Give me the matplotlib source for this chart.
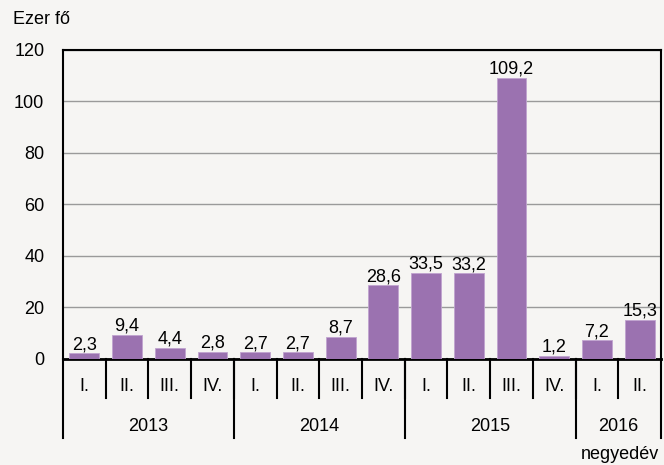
import matplotlib.pyplot as plt

# adatok
quarters = ["I.", "II.", "III.", "IV.", "I.", "II.", "III.", "IV.",
            "I.", "II.", "III.", "IV.", "I.", "II."]
years = ["2013", "2014", "2015", "2016"]
year_sizes = [4, 4, 4, 2]
values = [2.3, 9.4, 4.4, 2.8, 2.7, 2.7, 8.7, 28.6, 33.5, 33.2, 109.2, 1.2, 7.2, 15.3]

bg = "#f6f5f3"
bar_color = "#9b72b0"

plt.rcParams['font.family'] = ['Liberation Sans', 'DejaVu Sans']
plt.rcParams['font.size'] = 13

fig = plt.figure(figsize=(6.64, 4.65), dpi=100, facecolor=bg)
ax = fig.add_axes([0.0949, 0.228, 0.9006, 0.6645], facecolor=bg)

x = list(range(len(values)))
ax.bar(x, values, width=0.7, color=bar_color, edgecolor="#c0a3cf", linewidth=0.6, zorder=3)

for xi, v in zip(x, values):
    ax.annotate(f"{v:.1f}".replace(".", ","), (xi, v), xytext=(0, 0),
                textcoords="offset points", ha="center", va="bottom", zorder=4)

ax.set_xlim(-0.5, len(values) - 0.5)
ax.set_ylim(0, 120)
ax.set_yticks(range(0, 121, 20))
ax.yaxis.grid(True, color="#9a9a9a", linewidth=1)
ax.set_axisbelow(True)
ax.tick_params(axis="y", length=0, pad=13.5)
ax.set_xticks([])

for s in ["top", "left", "right"]:
    ax.spines[s].set_linewidth(1.5)
    ax.spines[s].set_color("black")
ax.spines["bottom"].set_linewidth(2)

# kétszintű x tengely
tr = ax.get_xaxis_transform()
for xi, q in zip(x, quarters):
    ax.text(xi, -0.09, q, transform=tr, ha="center", va="center")
for b in range(1, len(values)):
    ax.plot([b - 0.5, b - 0.5], [0, -0.126], transform=tr, color="black",
            linewidth=1.5, clip_on=False)

start = 0
for yr, n in zip(years, year_sizes):
    ax.text(start + n / 2 - 0.5, -0.218, yr, transform=tr, ha="center", va="center")
    ax.plot([start - 0.5, start - 0.5], [0, -0.256], transform=tr, color="black",
            linewidth=1.5, clip_on=False)
    start += n
ax.plot([start - 0.5, start - 0.5], [0, -0.256], transform=tr, color="black",
        linewidth=1.5, clip_on=False)

fig.text(0.019, 0.957, "Ezer fő", ha="left", va="center")
fig.text(0.993, 0.012, "negyedév", ha="right", va="baseline")

fig.savefig("out.png", dpi=100, facecolor=bg)
